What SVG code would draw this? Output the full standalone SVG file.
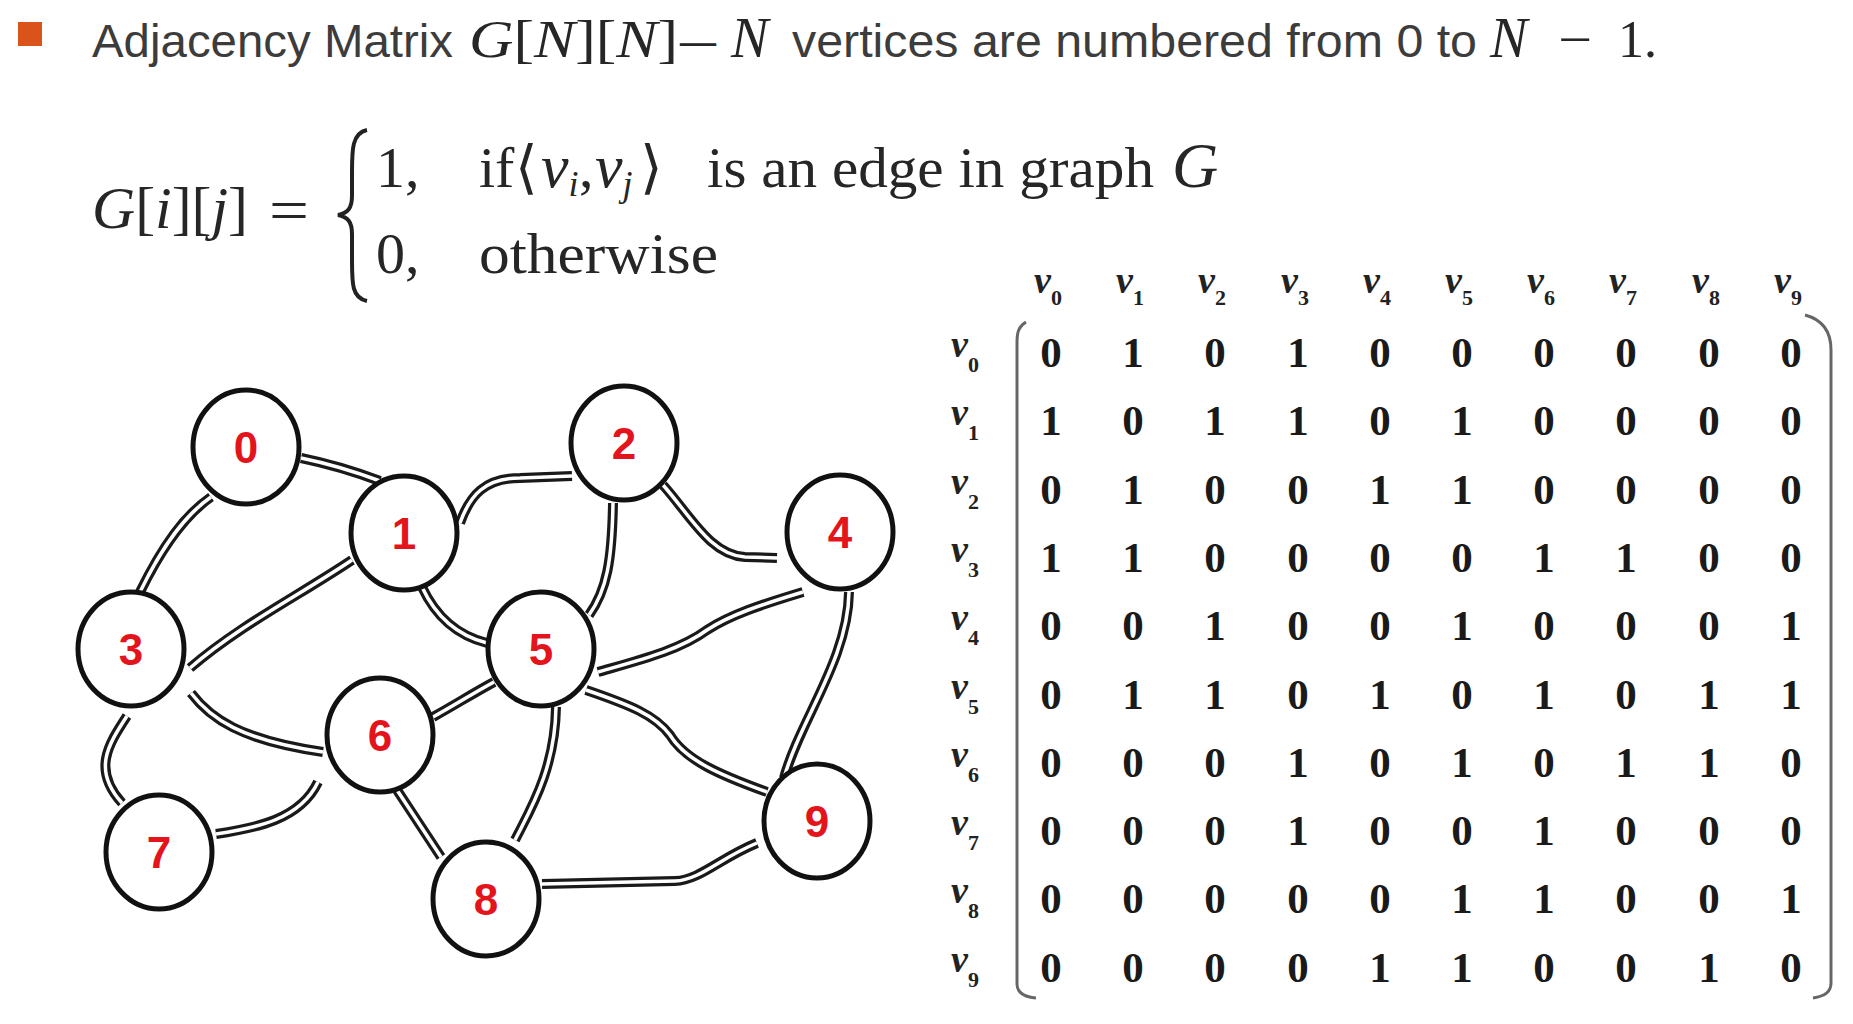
<svg xmlns="http://www.w3.org/2000/svg" width="1853" height="1024" viewBox="0 0 1853 1024">
<style>
.hdr{font-family:"Liberation Sans",Arial,sans-serif;font-size:46px;fill:#3c3c3c}
.m{font-family:"Liberation Serif","Times New Roman",serif;fill:#262626}
.it{font-style:italic}
.eo{fill:none;stroke:#1a1a1a;stroke-width:10}
.ei{fill:none;stroke:#fff;stroke-width:3.5}
.node ellipse{fill:#fff;stroke:#111;stroke-width:5}
.node text{font-family:"Liberation Sans",Arial,sans-serif;font-weight:bold;font-size:44px;fill:#e3141c;text-anchor:middle}
.cell{font-family:"Liberation Serif","Times New Roman",serif;font-weight:bold;font-size:43px;fill:#1a1a1a;text-anchor:middle}
.vl{font-family:"Liberation Serif","Times New Roman",serif;font-weight:bold;font-style:italic;font-size:38px;fill:#222}
.sb{font-size:22px;font-style:normal}
.br{fill:none;stroke:#666;stroke-width:3}
</style>
<rect width="1853" height="1024" fill="#fff"/>
<!-- header -->
<g id="header">
<rect x="18" y="22" width="24" height="24" fill="#d9531a"/>
<text class="hdr" x="92" y="57" textLength="361" lengthAdjust="spacingAndGlyphs">Adjacency Matrix</text>
<text class="m" x="469" y="57" font-size="52" textLength="209" lengthAdjust="spacingAndGlyphs"><tspan class="it">G</tspan>[<tspan class="it">N</tspan>][<tspan class="it">N</tspan>]</text>
<text class="m" x="680" y="57" font-size="52" textLength="36" lengthAdjust="spacingAndGlyphs">—</text>
<text class="m it" x="731" y="57" font-size="56">N</text>
<text class="hdr" x="792" y="57" textLength="685" lengthAdjust="spacingAndGlyphs">vertices are numbered from 0 to</text>
<text class="m it" x="1490" y="57" font-size="56">N</text>
<text class="m" x="1558" y="57" font-size="52" textLength="34" lengthAdjust="spacingAndGlyphs">−</text>
<text class="m" x="1618" y="57" font-size="52">1.</text>
</g>
<!-- formula -->
<g id="formula">
<text class="m" x="92" y="228" font-size="60" textLength="156" lengthAdjust="spacingAndGlyphs"><tspan class="it">G</tspan>[<tspan class="it">i</tspan>][<tspan class="it">j</tspan>]</text>
<text class="m" x="269" y="230" font-size="60" textLength="40" lengthAdjust="spacingAndGlyphs">=</text>
<path d="M367,130 C352,133 352,150 352,172 L352,196 C352,208 348,213 338,215 C348,217 352,222 352,234 L352,260 C352,284 352,298 367,301" fill="none" stroke="#222" stroke-width="4"/>
<text class="m" x="376" y="187" font-size="58">1,</text>
<text class="m" x="376" y="273" font-size="58">0,</text>
<text class="m" x="479" y="187" font-size="58">if</text>
<text class="m" x="515" y="187" font-size="58">⟨</text>
<text class="m it" x="541" y="187" font-size="62">v<tspan font-size="36" dy="9">i</tspan></text>
<text class="m" x="579" y="187" font-size="58">,</text>
<text class="m it" x="595" y="187" font-size="62">v<tspan font-size="36" dy="9">j</tspan></text>
<text class="m" x="640" y="187" font-size="58">⟩</text>
<text class="m" x="707" y="187" font-size="58" textLength="447" lengthAdjust="spacingAndGlyphs">is an edge in graph</text>
<text class="m it" x="1172" y="187" font-size="64">G</text>
<text class="m" x="479" y="273" font-size="58" textLength="239" lengthAdjust="spacingAndGlyphs">otherwise</text>
</g>
<!-- connectors -->
<g id="connectors">
<g id="e0-1"><path class="eo" d="M301,458 Q340,466 380,481"/><path class="ei" d="M301,458 Q340,466 380,481"/></g>
<g id="e0-3"><path class="eo" d="M211,497 C185,515 163,545 140,592"/><path class="ei" d="M211,497 C185,515 163,545 140,592"/></g>
<g id="e1-2"><path class="eo" d="M460,523 C470,495 485,478 520,478 L572,476"/><path class="ei" d="M460,523 C470,495 485,478 520,478 L572,476"/></g>
<g id="e1-3"><path class="eo" d="M352,560 C300,595 240,625 190,668"/><path class="ei" d="M352,560 C300,595 240,625 190,668"/></g>
<g id="e1-5"><path class="eo" d="M422,587 C435,615 455,635 487,643"/><path class="ei" d="M422,587 C435,615 455,635 487,643"/></g>
<g id="e2-4"><path class="eo" d="M663,485 C690,515 710,555 745,557 L777,558"/><path class="ei" d="M663,485 C690,515 710,555 745,557 L777,558"/></g>
<g id="e2-5"><path class="eo" d="M613,503 C612,560 607,590 589,615"/><path class="ei" d="M613,503 C612,560 607,590 589,615"/></g>
<g id="e4-5"><path class="eo" d="M803,592 C760,605 730,615 707,630 C680,650 640,660 598,672"/><path class="ei" d="M803,592 C760,605 730,615 707,630 C680,650 640,660 598,672"/></g>
<g id="e4-9"><path class="eo" d="M849,592 C848,660 800,720 784,778"/><path class="ei" d="M849,592 C848,660 800,720 784,778"/></g>
<g id="e5-9"><path class="eo" d="M586,690 C630,705 655,715 670,735 C685,760 720,775 767,792"/><path class="ei" d="M586,690 C630,705 655,715 670,735 C685,760 720,775 767,792"/></g>
<g id="e5-6"><path class="eo" d="M494,682 C470,695 455,705 433,717"/><path class="ei" d="M494,682 C470,695 455,705 433,717"/></g>
<g id="e5-8"><path class="eo" d="M556,707 C555,770 530,810 515,840"/><path class="ei" d="M556,707 C555,770 530,810 515,840"/></g>
<g id="e3-6"><path class="eo" d="M191,693 C210,718 240,740 323,752"/><path class="ei" d="M191,693 C210,718 240,740 323,752"/></g>
<g id="e3-7"><path class="eo" d="M127,716 C108,745 92,770 122,803"/><path class="ei" d="M127,716 C108,745 92,770 122,803"/></g>
<g id="e6-7"><path class="eo" d="M216,834 C255,828 300,820 318,782"/><path class="ei" d="M216,834 C255,828 300,820 318,782"/></g>
<g id="e6-8"><path class="eo" d="M397,790 L441,857"/><path class="ei" d="M397,790 L441,857"/></g>
<g id="e8-9"><path class="eo" d="M542,884 L675,881 C700,880 720,858 757,843"/><path class="ei" d="M542,884 L675,881 C700,880 720,858 757,843"/></g>
</g>
<!-- nodes -->
<g id="n0" class="node"><ellipse cx="246" cy="447" rx="53" ry="57"/><text x="246" y="463">0</text></g>
<g id="n1" class="node"><ellipse cx="404" cy="533" rx="53" ry="57"/><text x="404" y="549">1</text></g>
<g id="n2" class="node"><ellipse cx="624" cy="443" rx="53" ry="57"/><text x="624" y="459">2</text></g>
<g id="n3" class="node"><ellipse cx="131" cy="649" rx="53" ry="57"/><text x="131" y="665">3</text></g>
<g id="n4" class="node"><ellipse cx="840" cy="532" rx="53" ry="57"/><text x="840" y="548">4</text></g>
<g id="n5" class="node"><ellipse cx="541" cy="649" rx="53" ry="57"/><text x="541" y="665">5</text></g>
<g id="n6" class="node"><ellipse cx="380" cy="735" rx="53" ry="57"/><text x="380" y="751">6</text></g>
<g id="n7" class="node"><ellipse cx="159" cy="852" rx="53" ry="57"/><text x="159" y="868">7</text></g>
<g id="n8" class="node"><ellipse cx="486" cy="899" rx="53" ry="57"/><text x="486" y="915">8</text></g>
<g id="n9" class="node"><ellipse cx="817" cy="821" rx="53" ry="57"/><text x="817" y="837">9</text></g>
<!-- matrix -->
<g id="matrix">
<g id="colhead" class="vl">
<text x="1034" y="293">v<tspan class="sb" dy="12">0</tspan></text>
<text x="1116" y="293">v<tspan class="sb" dy="12">1</tspan></text>
<text x="1198" y="293">v<tspan class="sb" dy="12">2</tspan></text>
<text x="1281" y="293">v<tspan class="sb" dy="12">3</tspan></text>
<text x="1363" y="293">v<tspan class="sb" dy="12">4</tspan></text>
<text x="1445" y="293">v<tspan class="sb" dy="12">5</tspan></text>
<text x="1527" y="293">v<tspan class="sb" dy="12">6</tspan></text>
<text x="1609" y="293">v<tspan class="sb" dy="12">7</tspan></text>
<text x="1692" y="293">v<tspan class="sb" dy="12">8</tspan></text>
<text x="1774" y="293">v<tspan class="sb" dy="12">9</tspan></text>
</g>
<g id="rowhead" class="vl">
<text x="951" y="357">v<tspan class="sb" dy="15">0</tspan></text>
<text x="951" y="425">v<tspan class="sb" dy="15">1</tspan></text>
<text x="951" y="494">v<tspan class="sb" dy="15">2</tspan></text>
<text x="951" y="562">v<tspan class="sb" dy="15">3</tspan></text>
<text x="951" y="630">v<tspan class="sb" dy="15">4</tspan></text>
<text x="951" y="699">v<tspan class="sb" dy="15">5</tspan></text>
<text x="951" y="767">v<tspan class="sb" dy="15">6</tspan></text>
<text x="951" y="835">v<tspan class="sb" dy="15">7</tspan></text>
<text x="951" y="903">v<tspan class="sb" dy="15">8</tspan></text>
<text x="951" y="972">v<tspan class="sb" dy="15">9</tspan></text>
</g>
<path class="br" d="M1026,322 C1019,326 1017,332 1017,342 L1017,984 C1017,993 1025,997 1036,998"/>
<path class="br" d="M1805,315 C1824,320 1831,334 1831,350 L1831,983 C1831,992 1825,996 1813,998"/>
<g id="cells" class="cell">
<text x="1051 1133 1215 1298 1380 1462 1544 1626 1709 1791" y="367">0101000000</text>
<text x="1051 1133 1215 1298 1380 1462 1544 1626 1709 1791" y="435">1011010000</text>
<text x="1051 1133 1215 1298 1380 1462 1544 1626 1709 1791" y="504">0100110000</text>
<text x="1051 1133 1215 1298 1380 1462 1544 1626 1709 1791" y="572">1100001100</text>
<text x="1051 1133 1215 1298 1380 1462 1544 1626 1709 1791" y="640">0010010001</text>
<text x="1051 1133 1215 1298 1380 1462 1544 1626 1709 1791" y="709">0110101011</text>
<text x="1051 1133 1215 1298 1380 1462 1544 1626 1709 1791" y="777">0001010110</text>
<text x="1051 1133 1215 1298 1380 1462 1544 1626 1709 1791" y="845">0001001000</text>
<text x="1051 1133 1215 1298 1380 1462 1544 1626 1709 1791" y="913">0000011001</text>
<text x="1051 1133 1215 1298 1380 1462 1544 1626 1709 1791" y="982">0000110010</text>
</g>
</g>
</svg>
